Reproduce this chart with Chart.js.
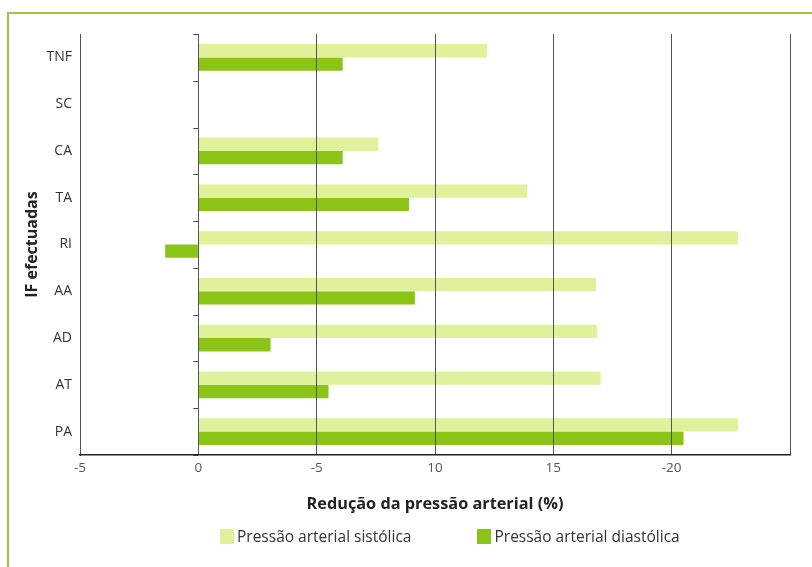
<!DOCTYPE html>
<html>
<head>
<meta charset="utf-8">
<script src="https://cdn.jsdelivr.net/npm/chart.js@4/dist/chart.umd.min.js"></script>
<style>
  html, body { margin: 0; padding: 0; background: #fff; }
  #wrap { position: relative; width: 812px; height: 567px; overflow: hidden; }
  #frame { position: absolute; left: 7px; top: 12px; width: 820px; height: 600px;
           border-left: 2px solid #9cc73c; border-top: 2px solid #9cc73c; }
  #c { position: absolute; left: 0; top: 0; }
  #legend { position: absolute; left: 220px; top: 525px; display: flex;
            font: 15.5px "Open Sans", sans-serif; color: #333; }
  #legend .item { display: flex; align-items: center; margin-right: 66px; }
  #legend .box { width: 14px; height: 15px; margin-right: 3px; }
</style>
</head>
<body>
<div id="wrap">
  <div id="frame"></div>
  <canvas id="c" width="812" height="567"></canvas>
  <div id="legend"></div>
</div>
<script>
/* categories (top to bottom) */
const categories = ['TNF', 'SC', 'CA', 'TA', 'RI', 'AA', 'AD', 'AT', 'PA'];

/* % reduction */
const systolic  = [12.2, null, 7.6, 13.9, 22.8, 16.8, 16.85, 17.0, 22.8];
const diastolic = [6.1, null, 6.1, 8.9, -1.4, 9.15, 3.05, 5.5, 20.5];

/* x tick labels as printed in the source */
const tickValues = [-5, 0, 5, 10, 15, 20, 25];
const tickLabels = ['-5', '0', '-5', '10', '15', '-20', ''];

const LIGHT = '#e0f19c';
const DARK  = '#8bc316';

/* small tick marks on the zero line between categories */
const zeroTicks = {
  id: 'zeroTicks',
  afterDatasetsDraw(chart) {
    const { ctx, scales: { x, y } } = chart;
    const x0 = x.getPixelForValue(0);
    ctx.save();
    ctx.strokeStyle = '#444';
    ctx.lineWidth = 1;
    for (let i = 0; i <= categories.length; i++) {
      const py = Math.round(y.getPixelForValue(i - 0.5)) + 0.5;
      ctx.beginPath();
      ctx.moveTo(x0 - 5, py);
      ctx.lineTo(x0, py);
      ctx.stroke();
    }
    ctx.restore();
  }
};

const chart = new Chart(document.getElementById('c'), {
  type: 'bar',
  data: {
    labels: categories,
    datasets: [
      { label: 'Pressão arterial sistólica', data: systolic, backgroundColor: LIGHT },
      { label: 'Pressão arterial diastólica', data: diastolic, backgroundColor: DARK }
    ]
  },
  options: {
    indexAxis: 'y',
    responsive: false,
    animation: false,
    barPercentage: 1,
    categoryPercentage: 0.57,
    layout: { padding: { left: 20, top: 34, right: 22, bottom: 52 } },
    plugins: { legend: { display: false }, tooltip: { enabled: false } },
    scales: {
      x: {
        type: 'linear',
        min: -5, max: 25,
        afterBuildTicks: s => { s.ticks = tickValues.map(v => ({ value: v })); },
        afterFit: s => { s.height = 60; },
        ticks: {
          callback: (v, i) => tickLabels[i],
          font: { family: 'Open Sans', size: 13.5 },
          color: '#555',
          padding: 5,
          maxRotation: 0
        },
        grid: { color: '#555', lineWidth: 1, drawTicks: false, z: 1 },
        border: { color: '#222', width: 1.5, z: 1 },
        title: {
          display: true,
          text: 'Redução da pressão arterial (%)',
          font: { family: 'Open Sans', size: 16.3, weight: 'bold' },
          color: '#222',
          padding: { top: 0, bottom: 1 }
        }
      },
      y: {
        afterFit: s => { s.width = 60; },
        ticks: {
          font: { family: 'Open Sans', size: 14 },
          color: '#333',
          padding: 8
        },
        grid: { display: false, drawTicks: false },
        border: { color: '#333', width: 1 },
        title: {
          display: true,
          text: 'IF efectuadas',
          font: { family: 'Open Sans', size: 16, weight: 'bold' },
          color: '#222',
          padding: { top: 3, bottom: 0 }
        }
      }
    }
  },
  plugins: [zeroTicks]
});

/* legend built from the datasets */
const legend = document.getElementById('legend');
chart.data.datasets.forEach(ds => {
  const item = document.createElement('div');
  item.className = 'item';
  item.innerHTML = `<span class="box" style="background:${ds.backgroundColor}"></span><span>${ds.label}</span>`;
  legend.appendChild(item);
});
</script>
</body>
</html>
